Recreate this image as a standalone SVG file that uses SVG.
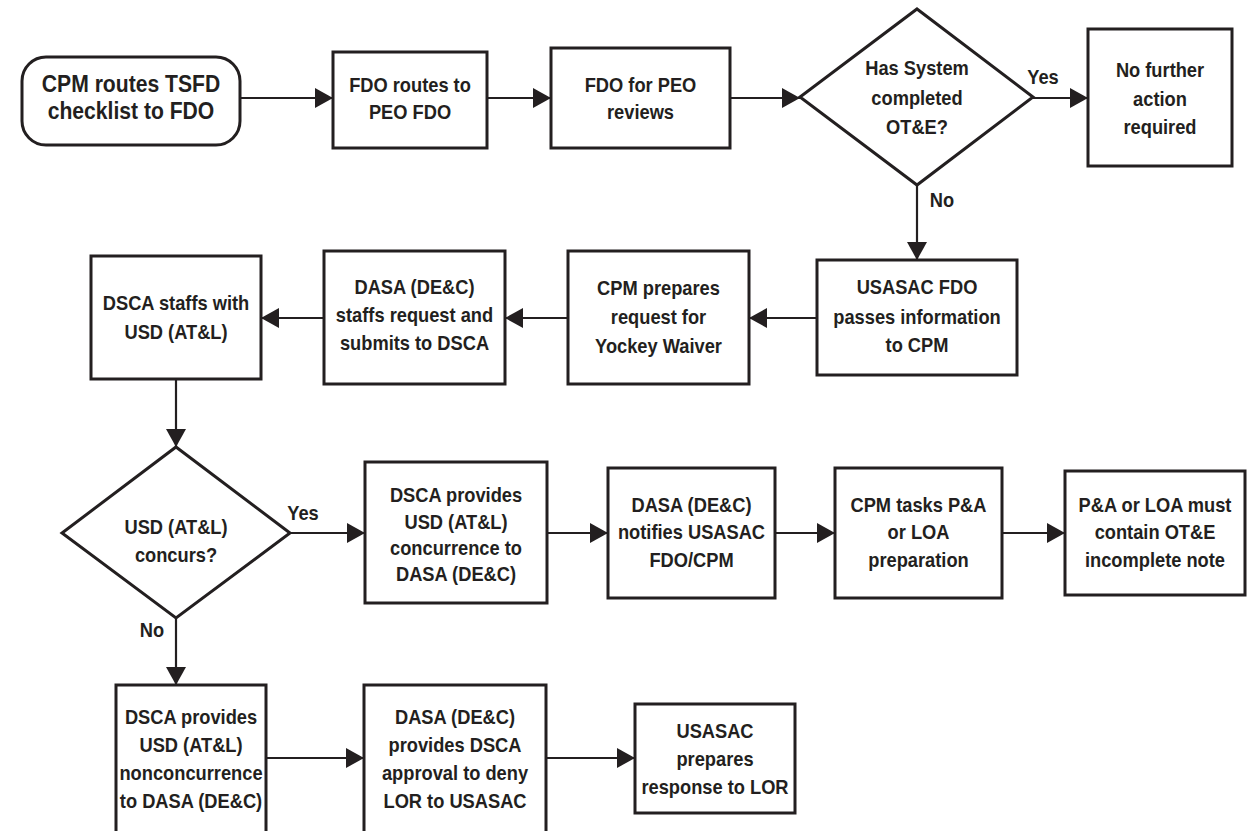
<svg xmlns="http://www.w3.org/2000/svg" width="1249" height="831" viewBox="0 0 1249 831">
<style>
.box{fill:#fff;stroke:#231f20;stroke-width:3}
.t{font-family:"Liberation Sans",Arial,sans-serif;font-weight:bold;font-size:21px;text-anchor:middle;fill:#231f20}
.big{font-size:24px}
.c{stroke:#231f20;stroke-width:2.2;fill:none;marker-end:url(#ah)}
</style>
<defs>
<marker id="ah" markerUnits="userSpaceOnUse" markerWidth="19" markerHeight="20" refX="18" refY="10" orient="auto">
<path d="M0,0 L18,10 L0,20 z" fill="#231f20"/>
</marker>
</defs>
<rect width="1249" height="831" fill="#fff"/>
<g id="connectors">
<line class="c" x1="240" y1="98" x2="333" y2="98"/>
<line class="c" x1="487" y1="98" x2="551" y2="98"/>
<line class="c" x1="730" y1="98" x2="800" y2="98"/>
<line class="c" x1="1033" y1="98" x2="1088" y2="98"/>
<line class="c" x1="917" y1="185" x2="917" y2="260"/>
<line class="c" x1="817" y1="318" x2="749" y2="318"/>
<line class="c" x1="568" y1="318" x2="505" y2="318"/>
<line class="c" x1="324" y1="318" x2="261" y2="318"/>
<line class="c" x1="176" y1="379" x2="176" y2="447"/>
<line class="c" x1="290" y1="533" x2="365" y2="533"/>
<line class="c" x1="176" y1="618" x2="176" y2="685"/>
<line class="c" x1="547" y1="533" x2="608" y2="533"/>
<line class="c" x1="775" y1="533" x2="835" y2="533"/>
<line class="c" x1="1002" y1="533" x2="1065" y2="533"/>
<line class="c" x1="266" y1="758" x2="364" y2="758"/>
<line class="c" x1="546" y1="758" x2="635" y2="758"/>
<text class="t" transform="translate(1043 0) scale(0.87 1)" y="84">Yes</text>
<text class="t" transform="translate(942 0) scale(0.87 1)" y="207">No</text>
<text class="t" transform="translate(303 0) scale(0.87 1)" y="520">Yes</text>
<text class="t" transform="translate(152 0) scale(0.87 1)" y="637">No</text>
</g>
<g id="start">
<rect class="box" x="22" y="57" width="218" height="88" rx="24"/>
<g transform="translate(131 0) scale(0.88 1)">
<text class="t big" y="92">CPM routes TSFD</text>
<text class="t big" y="119">checklist  to FDO</text>
</g>
</g>
<g id="fdo-routes">
<rect class="box" x="333" y="52" width="154" height="96"/>
<g transform="translate(410 0) scale(0.87 1)">
<text class="t" y="92">FDO routes to</text>
<text class="t" y="119">PEO FDO</text>
</g>
</g>
<g id="fdo-peo">
<rect class="box" x="551" y="48" width="179" height="100"/>
<g transform="translate(640.5 0) scale(0.87 1)">
<text class="t" y="92">FDO for PEO</text>
<text class="t" y="119">reviews</text>
</g>
</g>
<g id="otne">
<polygon class="box" points="917,9 1033,97 917,185 800,97"/>
<g transform="translate(917 0) scale(0.87 1)">
<text class="t" y="75">Has System</text>
<text class="t" y="105">completed</text>
<text class="t" y="134">OT&amp;E?</text>
</g>
</g>
<g id="no-action">
<rect class="box" x="1088" y="29" width="144" height="137"/>
<g transform="translate(1160 0) scale(0.87 1)">
<text class="t" y="77">No further</text>
<text class="t" y="106">action</text>
<text class="t" y="134">required</text>
</g>
</g>
<g id="usasac-fdo">
<rect class="box" x="817" y="260" width="200" height="115"/>
<g transform="translate(917 0) scale(0.87 1)">
<text class="t" y="294">USASAC FDO</text>
<text class="t" y="324">passes information</text>
<text class="t" y="352">to CPM</text>
</g>
</g>
<g id="cpm-prepares">
<rect class="box" x="568" y="251" width="181" height="133"/>
<g transform="translate(658.5 0) scale(0.87 1)">
<text class="t" y="295">CPM prepares</text>
<text class="t" y="324">request for</text>
<text class="t" y="353">Yockey Waiver</text>
</g>
</g>
<g id="dasa-staffs">
<rect class="box" x="324" y="251" width="181" height="133"/>
<g transform="translate(414.5 0) scale(0.87 1)">
<text class="t" y="294">DASA (DE&amp;C)</text>
<text class="t" y="322">staffs request and</text>
<text class="t" y="350">submits to DSCA</text>
</g>
</g>
<g id="dsca-staffs">
<rect class="box" x="91" y="256" width="170" height="123"/>
<g transform="translate(176 0) scale(0.87 1)">
<text class="t" y="310">DSCA staffs with</text>
<text class="t" y="339">USD (AT&amp;L)</text>
</g>
</g>
<g id="concurs">
<polygon class="box" points="176,447 290,533 176,618 62,533"/>
<g transform="translate(176 0) scale(0.87 1)">
<text class="t" y="534">USD (AT&amp;L)</text>
<text class="t" y="562">concurs?</text>
</g>
</g>
<g id="dsca-concurrence">
<rect class="box" x="365" y="462" width="182" height="141"/>
<g transform="translate(456 0) scale(0.87 1)">
<text class="t" y="502">DSCA provides</text>
<text class="t" y="529">USD (AT&amp;L)</text>
<text class="t" y="555">concurrence to</text>
<text class="t" y="581">DASA (DE&amp;C)</text>
</g>
</g>
<g id="dasa-notifies">
<rect class="box" x="608" y="468" width="167" height="130"/>
<g transform="translate(691.5 0) scale(0.87 1)">
<text class="t" y="512">DASA (DE&amp;C)</text>
<text class="t" y="539">notifies USASAC</text>
<text class="t" y="567">FDO/CPM</text>
</g>
</g>
<g id="cpm-tasks">
<rect class="box" x="835" y="468" width="167" height="130"/>
<g transform="translate(918.5 0) scale(0.87 1)">
<text class="t" y="512">CPM tasks P&amp;A</text>
<text class="t" y="539">or LOA</text>
<text class="t" y="567">preparation</text>
</g>
</g>
<g id="pa-loa">
<rect class="box" x="1065" y="471" width="180" height="124"/>
<g transform="translate(1155 0) scale(0.87 1)">
<text class="t" y="512">P&amp;A or LOA must</text>
<text class="t" y="539">contain OT&amp;E</text>
<text class="t" y="567">incomplete note</text>
</g>
</g>
<g id="dsca-nonconcurrence">
<rect class="box" x="116" y="685" width="150" height="170"/>
<g transform="translate(191 0) scale(0.87 1)">
<text class="t" y="724">DSCA provides</text>
<text class="t" y="752">USD (AT&amp;L)</text>
<text class="t" y="780">nonconcurrence</text>
<text class="t" y="808">to DASA (DE&amp;C)</text>
</g>
</g>
<g id="dasa-deny">
<rect class="box" x="364" y="685" width="182" height="170"/>
<g transform="translate(455 0) scale(0.87 1)">
<text class="t" y="724">DASA (DE&amp;C)</text>
<text class="t" y="752">provides DSCA</text>
<text class="t" y="780">approval to deny</text>
<text class="t" y="808">LOR to USASAC</text>
</g>
</g>
<g id="usasac-response">
<rect class="box" x="635" y="704" width="160" height="109"/>
<g transform="translate(715 0) scale(0.87 1)">
<text class="t" y="738">USASAC</text>
<text class="t" y="766">prepares</text>
<text class="t" y="794">response to LOR</text>
</g>
</g>
</svg>
